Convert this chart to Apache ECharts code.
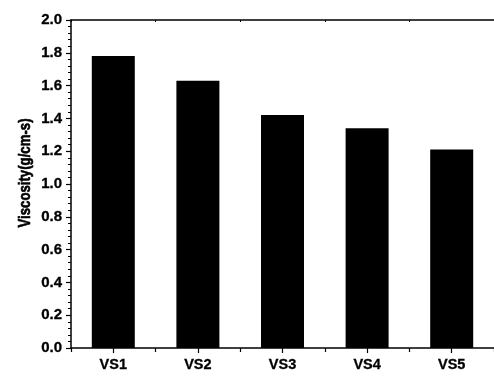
<!DOCTYPE html>
<html>
<head>
<meta charset="utf-8">
<script src="https://cdn.jsdelivr.net/npm/echarts@6/dist/echarts.min.js"></script>
<style>
  html, body { margin: 0; padding: 0; background: #fff; }
  #chart { width: 494px; height: 377px; }
</style>
</head>
<body>
<div id="chart"></div>
<script>
// Sample names and measured viscosity
const categories = ['VS1', 'VS2', 'VS3', 'VS4', 'VS5'];
const viscosity = [1.78, 1.63, 1.42, 1.34, 1.21];
const yAxisTitle = 'Viscosity(g/cm-s)';

const FONT = '"Liberation Sans", Arial, sans-serif';
const INK = '#000';

const chart = echarts.init(document.getElementById('chart'), null, { renderer: 'canvas' });

chart.setOption({
  animation: false,
  backgroundColor: '#fff',
  grid: { left: 71, top: 20, bottom: 29, width: 426, containLabel: false },
  // vertical axis title, condensed along its length
  graphic: [
    {
      type: 'text',
      x: 25,
      y: 173,
      rotation: Math.PI / 2,
      scaleX: 0.8,
      style: {
        text: yAxisTitle,
        fill: INK,
        font: 'bold 16.5px ' + FONT,
        align: 'center',
        verticalAlign: 'middle',
        stroke: INK,
        lineWidth: 0.6
      }
    }
  ],
  xAxis: [
    {
      // labelled category axis, ticks under each label
      type: 'category',
      data: categories,
      position: 'bottom',
      axisLine: { show: true, lineStyle: { color: INK, width: 1.5 } },
      axisTick: { show: true, alignWithLabel: true, length: 5, lineStyle: { color: INK, width: 1.2 } },
      axisLabel: {
        color: INK, fontFamily: FONT, fontWeight: 'bold', fontSize: 14.5, margin: 9,
        textBorderColor: INK, textBorderWidth: 0.3
      },
      splitLine: { show: false }
    },
    {
      // extra ticks on the category boundaries
      type: 'category',
      data: categories,
      position: 'bottom',
      axisLine: { show: false },
      axisTick: { show: true, alignWithLabel: false, length: 4, lineStyle: { color: INK, width: 1.2 } },
      axisLabel: { show: false },
      splitLine: { show: false }
    },
    {
      // frame line along the top
      type: 'category',
      data: categories,
      position: 'top',
      axisLine: { show: true, lineStyle: { color: INK, width: 1.5 } },
      axisTick: { show: true, inside: true, alignWithLabel: false, length: 2, lineStyle: { color: INK, width: 1 } },
      axisLabel: { show: false },
      splitLine: { show: false }
    }
  ],
  yAxis: {
    type: 'value',
    min: 0,
    max: 2,
    interval: 0.2,
    axisLine: { show: true, lineStyle: { color: INK, width: 1.5 } },
    axisTick: { show: true, length: 5, lineStyle: { color: INK, width: 1.2 } },
    minorTick: { show: true, splitNumber: 5, length: 3, lineStyle: { color: INK, width: 1 } },
    axisLabel: {
      color: INK, fontFamily: FONT, fontWeight: 'bold', fontSize: 15, margin: 9,
      textBorderColor: INK, textBorderWidth: 0.3,
      formatter: v => v.toFixed(1)
    },
    splitLine: { show: false }
  },
  series: [
    {
      type: 'bar',
      xAxisIndex: 0,
      data: viscosity,
      barWidth: 43,
      itemStyle: { color: '#000' }
    }
  ]
});
</script>
</body>
</html>
